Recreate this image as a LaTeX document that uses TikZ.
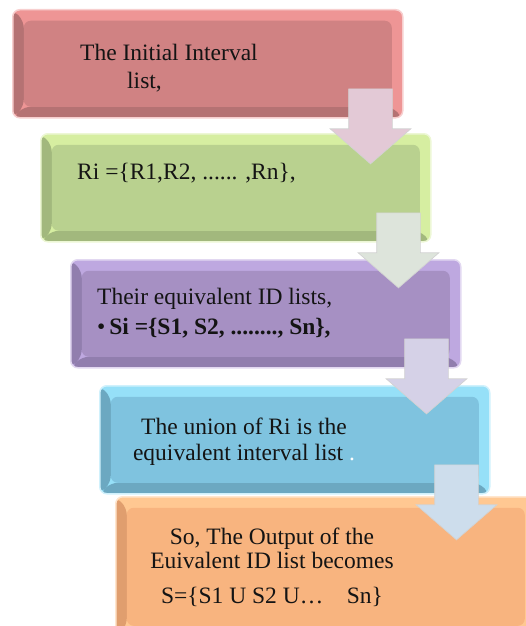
\documentclass[tikz,border=0pt]{standalone}
\usepackage{fontspec}
\setmainfont{Liberation Serif}
\usetikzlibrary{shapes.arrows}

\definecolor{redface}{HTML}{D08283}
\definecolor{rededge}{HTML}{EE9595}
\definecolor{redshade}{HTML}{B57273}
\definecolor{greenface}{HTML}{B9D18F}
\definecolor{greenedge}{HTML}{D6EEA1}
\definecolor{greenshade}{HTML}{A2B87D}
\definecolor{purpleface}{HTML}{A690C3}
\definecolor{purpleedge}{HTML}{BEA8E0}
\definecolor{purpleshade}{HTML}{917EAE}
\definecolor{blueface}{HTML}{7FC3DF}
\definecolor{blueedge}{HTML}{96E0F8}
\definecolor{blueshade}{HTML}{6CA8C1}
\definecolor{orangeface}{HTML}{F8B47F}
\definecolor{orangeedge}{HTML}{FFC892}
\definecolor{orangeshade}{HTML}{E09E6E}
\definecolor{arrowpink}{HTML}{E3C9D6}
\definecolor{arrowgreen}{HTML}{DDE4DB}
\definecolor{arrowviolet}{HTML}{D5D1E7}
\definecolor{arrowblue}{HTML}{CDDDEC}

\tikzset{
  stage/.style={rounded corners=7pt, fill=#1edge, draw=#1edge!45, line width=1.5pt,
    minimum width=390pt, minimum height=108pt, anchor=north west, inner sep=0pt,
    path picture={
      \fill[#1shade] (path picture bounding box.north west) -- ++(11pt,-11pt)
        -- ([shift={(11pt,11pt)}]path picture bounding box.south west)
        -- (path picture bounding box.south west) -- cycle;
      \fill[#1shade] (path picture bounding box.south west)
        -- ([shift={(11pt,11pt)}]path picture bounding box.south west)
        -- ([shift={(-11pt,11pt)}]path picture bounding box.south east)
        -- (path picture bounding box.south east) -- cycle;
      \fill[#1face] ([shift={(11pt,-11pt)}]path picture bounding box.north west)
        rectangle ([shift={(-11pt,11pt)}]path picture bounding box.south east);
    }},
  flow/.style={single arrow, shape border rotate=270, anchor=tail, inner sep=21.5pt,
    minimum height=75pt, minimum width=80pt, single arrow head extend=18.5pt,
    single arrow tip angle=98, fill=#1, draw=white!65!gray, line width=0.7pt},
  txt/.style={font=\fontsize{23.5}{28}\selectfont, align=left, inner sep=0pt, text=black!92}
}

\begin{document}
\begin{tikzpicture}[x=1pt, y=-1pt]
  \clip (0,0) rectangle (526,626);
  % the five stages
  \node[stage=red] (initial) at (12,9) {};
  \node[stage=green] (ri) at (40,133) {};
  \node[stage=purple] (si) at (70,259) {};
  \node[stage=blue] (union) at (99,385) {};
  \node[stage=orange, minimum width=420pt, minimum height=140pt] (output) at (115,496) {};

  % texts
  \node[txt, anchor=west] (initial-t) at (80,68) {The Initial Interval\\\hspace*{47pt}list,};
  \node[txt, anchor=west] (ri-t) at (77,173) {Ri =\{R1,R2, ...... ,Rn\},};
  \node[txt, anchor=west] (si-t) at (97,313) {Their equivalent ID lists,\\[2pt]•\,\textbf{Si =\{S1, S2, ........, Sn\},}};
  \node[txt, align=center] (union-t) at (244,442) {The union of Ri is the\\[-2pt]equivalent interval list {\color{white}.}};
  \node[txt, align=center] (output-t) at (272,567) {So, The Output of the\\[-4pt]Euivalent ID list becomes\\[7pt]S=\{S1 U S2 U…\quad Sn\}};

  % arrows between stages
  \node[flow=arrowpink] (a1) at ([shift={(-33pt,30pt)}]initial.south east) {};
  \node[flow=arrowgreen] (a2) at ([shift={(-33pt,30pt)}]ri.south east) {};
  \node[flow=arrowviolet] (a3) at ([shift={(-35pt,30pt)}]si.south east) {};
  \node[flow=arrowblue] (a4) at ([shift={(-34pt,30pt)}]union.south east) {};
\end{tikzpicture}
\end{document}
